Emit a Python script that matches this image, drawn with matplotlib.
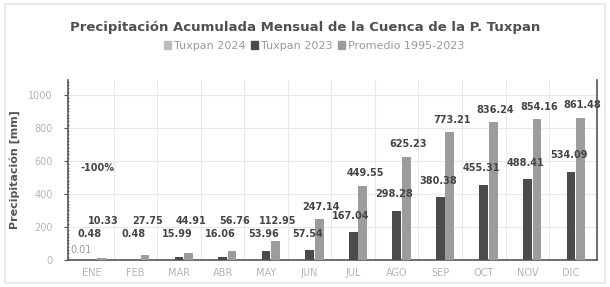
import matplotlib.pyplot as plt
from matplotlib.patches import Rectangle
import numpy as np

plt.rcParams['font.family'] = ['DejaVu Sans']

# Monthly accumulated precipitation (mm)
months = ["ENE", "FEB", "MAR", "ABR", "MAY", "JUN", "JUL", "AGO", "SEP", "OCT", "NOV", "DIC"]
tuxpan_2024 = [0.01]
tuxpan_2023 = [0.48, 0.48, 15.99, 16.06, 53.96, 57.54, 167.04, 298.28, 380.38, 455.31, 488.41, 534.09]
promedio = [10.33, 27.75, 44.91, 56.76, 112.95, 247.14, 449.55, 625.23, 773.21, 836.24, 854.16, 861.48]
pct_label = "-100%"

c24 = "#bdbdbd"
c23 = "#4b4b4b"
cprom = "#9c9c9c"
lbl = "#454545"

x = np.arange(len(months))
w = 0.2

fig = plt.figure(figsize=(6.10, 2.87), dpi=100)
fig.patches.append(Rectangle((0.008, 0.015), 0.984, 0.97, transform=fig.transFigure,
                             facecolor="white", edgecolor="#e6e6e6", lw=1.2, zorder=-10))
ax = fig.add_axes([68 / 610, 27 / 287, 529 / 610, 180 / 287])
ax.set_facecolor("none")

ax.bar(x[:len(tuxpan_2024)] - 0.22, tuxpan_2024, w, color=c24, zorder=3)
ax.bar(x, tuxpan_2023, w, color=c23, zorder=3)
ax.bar(x + 0.22, promedio, w, color=cprom, zorder=3)

# value labels
for i, v in enumerate(tuxpan_2023):
    ax.text(x[i] - 0.05, max(v + 100, 160), f"{v:.2f}", ha="center", va="center",
            fontsize=7, fontweight="bold", color=lbl, zorder=5)
for i, v in enumerate(promedio):
    ax.text(x[i] + 0.27, max(v + 75, 235), f"{v:.2f}", ha="center", va="center",
            fontsize=7, fontweight="bold", color=lbl, zorder=5)
for i, v in enumerate(tuxpan_2024):
    ax.text(x[i] - 0.5, 60, f"{v:.2f}", ha="left", va="center",
            fontsize=7, color="#9a9a9a", zorder=5)
ax.text(x[0] + 0.12, 560, pct_label, ha="center", va="center",
        fontsize=7, fontweight="bold", color=lbl, zorder=5)

ax.set_xlim(-0.55, 11.6)
ax.set_ylim(0, 1090)
ax.set_xticks(x)
ax.set_xticklabels(months)
ax.set_yticks(np.arange(0, 1001, 200))
ax.set_yticks(np.arange(0, 1081, 20), minor=True)
ax.set_xticks(x[:-1] + 0.5, minor=True)

ax.tick_params(axis="x", which="both", length=0, labelsize=7, colors="#b5b5b5", pad=6)
ax.tick_params(axis="y", which="major", length=3, labelsize=7, labelcolor="#b5b5b5", color="#555555", pad=8)
ax.tick_params(axis="y", which="minor", length=2, color="#555555", direction="inout")

ax.grid(axis="y", which="major", color="#e8e8e8", lw=0.8, zorder=0)
ax.grid(axis="x", which="minor", color="#e8e8e8", lw=0.8, zorder=0)

ax.spines["top"].set_visible(False)
for s in ["left", "right", "bottom"]:
    ax.spines[s].set_color("#555555")
    ax.spines[s].set_linewidth(1.2)

ax.set_ylabel("Precipitación [mm]", fontsize=8, fontweight="bold", color="#555555", labelpad=6)

fig.text(0.5, 0.905, "Precipitación Acumulada Mensual de la Cuenca de la P. Tuxpan",
         ha="center", va="center", fontsize=9.5, fontweight="bold", color="#505050")
handles = [Rectangle((0, 0), 1, 1, color=c) for c in (c24, c23, cprom)]
fig.legend(handles, ["Tuxpan 2024", "Tuxpan 2023", "Promedio 1995-2023"],
           loc="center", bbox_to_anchor=(0.515, 0.84), ncol=3, frameon=False,
           fontsize=8, handlelength=0.6, handleheight=0.6, handletextpad=0.3,
           columnspacing=0.5, labelcolor="#9a9a9a")

plt.savefig("out.png", dpi=100)
